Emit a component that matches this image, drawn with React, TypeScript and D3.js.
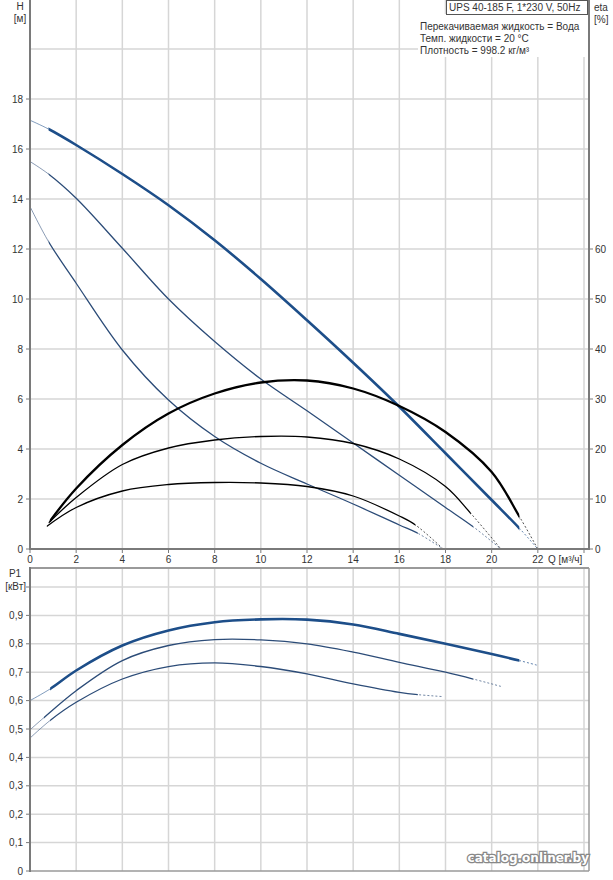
import React from "react";
import * as d3 from "d3";

// ---------- data ----------
const qTicks = [0, 2, 4, 6, 8, 10, 12, 14, 16, 18, 20, 22];
const qGrid = [2, 4, 6, 8, 10, 12, 14, 16, 18, 20, 22, 24];
const hTicks = [0, 2, 4, 6, 8, 10, 12, 14, 16, 18];
const hGrid = [2, 4, 6, 8, 10, 12, 14, 16, 18, 20];
const etaTicks = [0, 10, 20, 30, 40, 50, 60];
const pTicks = [0, 0.1, 0.2, 0.3, 0.4, 0.5, 0.6, 0.7, 0.8, 0.9];
const pGrid = [0.1, 0.2, 0.3, 0.4, 0.5, 0.6, 0.7, 0.8, 0.9, 1.0];

// H curves (speed 3, 2, 1)
const qH3 = [0, 0.8, 2, 4, 6, 8, 10, 12, 14, 16, 18, 20, 21.2, 22];
const vH3 = [17.15, 16.8, 16.16, 15.0, 13.75, 12.35, 10.8, 9.15, 7.45, 5.69, 3.83, 1.96, 0.83, 0];
const qH2 = [0, 0.8, 2, 4, 6, 8, 10, 12, 14, 16, 18, 19.2, 20.4];
const vH2 = [15.5, 15.0, 14.03, 12.03, 10.0, 8.3, 6.8, 5.53, 4.24, 2.95, 1.66, 0.89, 0];
const qH1 = [0, 0.8, 2, 4, 6, 8, 10, 12, 14, 16, 16.8, 17.9];
const vH1 = [13.7, 12.3, 10.63, 7.96, 5.96, 4.5, 3.43, 2.6, 1.8, 0.96, 0.63, 0];

// eta curves
const qE3 = [0.85, 2, 4, 6, 8, 10, 12, 14, 16, 18, 20, 21.2, 22];
const vE3 = [5.5, 12.1, 20.8, 27.1, 31.1, 33.3, 33.7, 32.1, 28.6, 23.4, 15.4, 6.5, 0];
const qE2 = [0.8, 2, 4, 6, 8, 10, 12, 14, 16, 18, 19.1, 20.4];
const vE2 = [5.2, 10.3, 16.9, 20.2, 21.8, 22.5, 22.4, 21.1, 18.0, 12.5, 7.1, 0];
const qE1 = [0.72, 2, 4, 6, 8, 10, 12, 14, 16, 16.7, 17.9];
const vE1 = [4.5, 8.3, 11.6, 12.9, 13.3, 13.2, 12.5, 10.6, 6.6, 4.8, 0];

// P1 curves
const qP3 = [0, 0.87, 2, 4, 6, 8, 10, 12, 14, 16, 18, 20, 21.2, 22];
const vP3 = [0.6, 0.641, 0.706, 0.794, 0.847, 0.876, 0.886, 0.885, 0.868, 0.835, 0.8, 0.764, 0.741, 0.724];
const qP2 = [0, 0.6, 2, 4, 6, 8, 10, 12, 14, 16, 18, 19.2, 20.4];
const vP2 = [0.497, 0.54, 0.635, 0.741, 0.794, 0.815, 0.814, 0.8, 0.771, 0.735, 0.7, 0.676, 0.65];
const qP1 = [0, 0.87, 2, 4, 6, 8, 10, 12, 14, 16, 16.8, 17.9];
const vP1 = [0.468, 0.53, 0.594, 0.676, 0.72, 0.733, 0.72, 0.694, 0.659, 0.629, 0.621, 0.614];

const legendTitle = "UPS 40-185 F, 1*230 V, 50Hz";
const legendLines = ["Перекачиваемая жидкость = Вода", "Темп. жидкости = 20 °C", "Плотность = 998.2 кг/м³"];

// ---------- layout ----------
const W = 613;
const H = 880;
const X0 = 30;
const XR = 589;
const font = "'Liberation Sans', Arial, sans-serif";

const x = d3.scaleLinear().domain([0, 24]).range([X0, 584]);
const yH = d3.scaleLinear().domain([0, 20]).range([549, 49]);
const yE = d3.scaleLinear().domain([0, 100]).range([549, 49]);
const yP = d3.scaleLinear().domain([0, 1]).range([871, 587]);

type Curve = {
  q: number[];
  v: number[];
  y: d3.ScaleLinear<number, number>;
  s: number;
  e: number;
  color: string;
  w: number;
};

const curves: Curve[] = [
  { q: qH3, v: vH3, y: yH, s: 1, e: 12, color: "#1d4e89", w: 2.6 },
  { q: qH2, v: vH2, y: yH, s: 1, e: 11, color: "#2c4c78", w: 1.3 },
  { q: qH1, v: vH1, y: yH, s: 1, e: 10, color: "#2c4c78", w: 1.3 },
  { q: qE3, v: vE3, y: yE, s: 0, e: 11, color: "#000", w: 2.3 },
  { q: qE2, v: vE2, y: yE, s: 0, e: 10, color: "#000", w: 1.3 },
  { q: qE1, v: vE1, y: yE, s: 0, e: 9, color: "#000", w: 1.3 },
  { q: qP3, v: vP3, y: yP, s: 1, e: 12, color: "#1d4e89", w: 2.6 },
  { q: qP2, v: vP2, y: yP, s: 1, e: 11, color: "#2c4c78", w: 1.3 },
  { q: qP1, v: vP1, y: yP, s: 1, e: 10, color: "#2c4c78", w: 1.3 },
];

function pts(c: Curve): [number, number][] {
  return c.q.map((q, i) => [x(q), c.y(c.v[i])] as [number, number]);
}

const lineGen = d3.line().curve(d3.curveCatmullRom.alpha(0.5));

function CurveView({ c, id }: { c: Curve; id: string }) {
  const d = lineGen(pts(c)) || "";
  const xs = x(c.q[c.s]);
  const xe = x(c.q[c.e]);
  return (
    <g>
      <defs>
        <clipPath id={`${id}-lead`}>
          <rect x={0} y={0} width={xs} height={H} />
        </clipPath>
        <clipPath id={`${id}-main`}>
          <rect x={xs} y={0} width={xe - xs} height={H} />
        </clipPath>
        <clipPath id={`${id}-tail`}>
          <rect x={xe} y={0} width={W - xe} height={H} />
        </clipPath>
      </defs>
      {c.s > 0 && (
        <path d={d} fill="none" stroke={c.color} strokeWidth={0.8} opacity={0.7} clipPath={`url(#${id}-lead)`} />
      )}
      <path d={d} fill="none" stroke={c.color} strokeWidth={c.w} clipPath={`url(#${id}-main)`} />
      <path d={d} fill="none" stroke={c.color} strokeWidth={0.9} strokeDasharray="2,2" opacity={0.75} clipPath={`url(#${id}-tail)`} />
    </g>
  );
}

export default function App() {
  const gridColor = "#d6d6d6";
  const axisColor = "#7a7a7a";
  const textColor = "#333";
  const fmtP = (v: number) => (v === 0 ? "0" : v.toFixed(1).replace(".", ","));
  return (
    <svg width={W} height={H} style={{ position: "absolute", left: 0, top: 0, background: "#fff" }} fontFamily={font}>
      <rect x={0} y={0} width={W} height={H} fill="#fff" />
      {/* top chart grid */}
      {qGrid.map((q) => (
        <line key={"tv" + q} x1={x(q)} x2={x(q)} y1={0} y2={549} stroke={gridColor} strokeWidth={1.5} />
      ))}
      {hGrid.map((h) => (
        <line key={"th" + h} x1={X0} x2={XR} y1={yH(h)} y2={yH(h)} stroke={gridColor} strokeWidth={1.5} />
      ))}
      {/* bottom chart grid */}
      {qGrid.map((q) => (
        <line key={"bv" + q} x1={x(q)} x2={x(q)} y1={568} y2={871} stroke={gridColor} strokeWidth={1.5} />
      ))}
      {pGrid.map((p) => (
        <line key={"bh" + p} x1={X0} x2={XR} y1={yP(p)} y2={yP(p)} stroke={gridColor} strokeWidth={1.5} />
      ))}

      {/* curves */}
      {curves.map((c, i) => (
        <CurveView key={i} c={c} id={"cv" + i} />
      ))}

      {/* top axes */}
      <line x1={X0} x2={X0} y1={0} y2={550} stroke={axisColor} strokeWidth={2} />
      <line x1={X0} x2={XR} y1={549} y2={549} stroke={axisColor} strokeWidth={2} />
      <line x1={XR} x2={XR} y1={0} y2={550} stroke={axisColor} strokeWidth={2} />
      {hTicks.map((h) => (
        <g key={"hl" + h}>
          <line x1={X0 - 4} x2={X0} y1={yH(h)} y2={yH(h)} stroke={axisColor} strokeWidth={1} />
          <text x={X0 - 7} y={yH(h) + 3.5} fontSize={10} textAnchor="end" fill={textColor}>
            {h}
          </text>
        </g>
      ))}
      {etaTicks.map((e) => (
        <g key={"el" + e}>
          <line x1={XR} x2={XR + 4} y1={yE(e)} y2={yE(e)} stroke={axisColor} strokeWidth={1} />
          <text x={XR + 6} y={yE(e) + 3.5} fontSize={10} textAnchor="start" fill={textColor}>
            {e}
          </text>
        </g>
      ))}
      {qGrid.map((q) => (
        <line key={"qt" + q} x1={x(q)} x2={x(q)} y1={549} y2={553} stroke={axisColor} strokeWidth={1} />
      ))}
      <line x1={X0} x2={X0} y1={549} y2={553} stroke={axisColor} strokeWidth={1} />
      {qTicks.map((q) => (
        <text key={"ql" + q} x={x(q)} y={563} fontSize={10} textAnchor="middle" fill={textColor}>
          {q}
        </text>
      ))}
      <text x={548} y={563} fontSize={10} fill={textColor}>
        Q [м³/ч]
      </text>
      <text x={20} y={10} fontSize={10} textAnchor="middle" fill={textColor}>
        H
      </text>
      <text x={20} y={22} fontSize={10} textAnchor="middle" fill={textColor}>
        [м]
      </text>
      <text x={594} y={11} fontSize={10} fill={textColor}>
        eta
      </text>
      <text x={594} y={23} fontSize={10} fill={textColor}>
        [%]
      </text>

      {/* legend */}
      <rect x={418} y={14} width={170} height={43} fill="#fff" />
      <rect x={446.5} y={0.5} width={141} height={14} fill="#fff" stroke="#555" strokeWidth={1} />
      <text x={449} y={11} fontSize={10} fill={textColor}>
        {legendTitle}
      </text>
      {legendLines.map((t, i) => (
        <text key={t} x={420} y={30 + i * 12} fontSize={10} fill={textColor}>
          {t}
        </text>
      ))}

      {/* bottom axes */}
      <line x1={X0} x2={XR} y1={568} y2={568} stroke="#9a9a9a" strokeWidth={2} />
      <line x1={XR} x2={XR} y1={568} y2={871} stroke="#9a9a9a" strokeWidth={1.5} />
      <line x1={X0} x2={XR} y1={871} y2={871} stroke="#9a9a9a" strokeWidth={1.5} />
      <line x1={X0} x2={X0} y1={567} y2={872} stroke={axisColor} strokeWidth={2} />
      {pTicks.map((p) => (
        <g key={"pl" + p}>
          <line x1={X0 - 4} x2={X0} y1={yP(p)} y2={yP(p)} stroke={axisColor} strokeWidth={1} />
          <text x={X0 - 7} y={yP(p) + 3.5} fontSize={10} textAnchor="end" fill={textColor}>
            {fmtP(p)}
          </text>
        </g>
      ))}
      <line x1={X0 - 4} x2={X0} y1={yP(1)} y2={yP(1)} stroke={axisColor} strokeWidth={1} />
      <text x={15} y={577} fontSize={10} textAnchor="middle" fill={textColor}>
        P1
      </text>
      <text x={X0 - 4} y={590} fontSize={10} textAnchor="end" fill={textColor}>
        [кВт]
      </text>

      {/* watermark */}
      <text x={589} y={862} fontSize={12} fontWeight="bold" textAnchor="end" fill="#fff" stroke="#888" strokeWidth={2.5} paintOrder="stroke" fontFamily="'DejaVu Sans', sans-serif">
        catalog.onliner.by
      </text>
    </svg>
  );
}
